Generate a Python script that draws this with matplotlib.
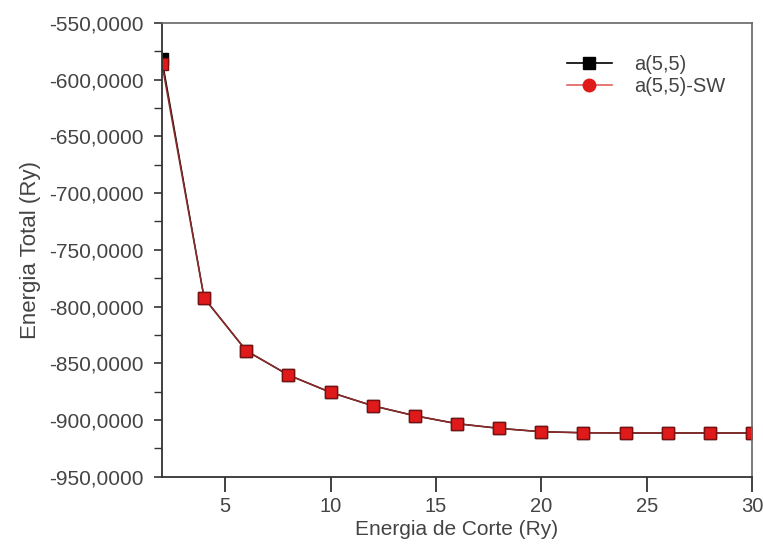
import matplotlib
matplotlib.use("Agg")
import matplotlib.pyplot as plt
from matplotlib.lines import Line2D
from matplotlib.ticker import FuncFormatter, MultipleLocator

plt.rcParams['font.family'] = ['Liberation Sans', 'DejaVu Sans']

# cutoff energy (Ry)
ecut = [2, 4, 6, 8, 10, 12, 14, 16, 18, 20, 22, 24, 26, 28, 30]
# total energy (Ry)
e_a55 = [-582.0, -792.5, -839.0, -860.4, -875.7, -887.5, -896.3, -903.3,
         -907.4, -910.4, -911.3, -911.5, -911.5, -911.5, -911.5]
e_a55_sw = [-586.0, -792.5, -839.0, -860.4, -875.7, -887.5, -896.3, -903.3,
            -907.4, -910.4, -911.3, -911.5, -911.5, -911.5, -911.5]

txt = '#444444'
red = '#e01a1a'

fig = plt.figure(figsize=(7.63, 5.46), dpi=100)
ax = fig.add_axes([0.2123, 0.127, 0.7733, 0.831])

ax.plot(ecut, e_a55, color='black', marker='s', markersize=9, lw=1.0)
ax.plot(ecut, e_a55_sw, color='#8a2a2a', marker='s', markersize=9, lw=1.2,
        markerfacecolor=red, markeredgecolor='#7a1010', markeredgewidth=1.0)

ax.set_xlim(2, 30)
ax.set_ylim(-950, -550)
ax.xaxis.set_major_locator(MultipleLocator(5))
ax.yaxis.set_major_locator(MultipleLocator(50))
ax.yaxis.set_minor_locator(MultipleLocator(25))
ax.yaxis.set_major_formatter(FuncFormatter(lambda v, p: f"{v:.4f}".replace('.', ',')))

for s in ['left', 'bottom']:
    ax.spines[s].set_color('#333333')
    ax.spines[s].set_linewidth(1.3)
for s in ['top', 'right']:
    ax.spines[s].set_color('#666666')
    ax.spines[s].set_linewidth(1.2)

ax.tick_params(axis='x', which='major', direction='out', length=11, width=1.3,
               colors='#333333', labelsize=14.5, labelcolor=txt, pad=4)
ax.tick_params(axis='y', which='major', direction='out', length=6, width=1.2,
               colors='#333333', labelsize=15, labelcolor=txt, pad=7)
ax.tick_params(axis='y', which='minor', direction='out', length=6, width=1.0,
               colors='#333333')

ax.set_xlabel('Energia de Corte (Ry)', fontsize=15, color=txt, labelpad=2.5)
ax.set_ylabel('Energia Total (Ry)', fontsize=16, color=txt, labelpad=6)

handles = [
    Line2D([], [], color='black', marker='s', markersize=8, lw=1.2),
    Line2D([], [], color='#e06060', marker='o', markersize=9, lw=1.2,
           markerfacecolor=red, markeredgecolor=red),
]
ax.legend(handles, ['a(5,5)', 'a(5,5)-SW'], loc='upper right', frameon=False,
          fontsize=14.5, labelcolor=txt, bbox_to_anchor=(0.985, 0.97),
          handlelength=2.2, handletextpad=1.1, labelspacing=0.15)

fig.savefig('out.png', dpi=100)
